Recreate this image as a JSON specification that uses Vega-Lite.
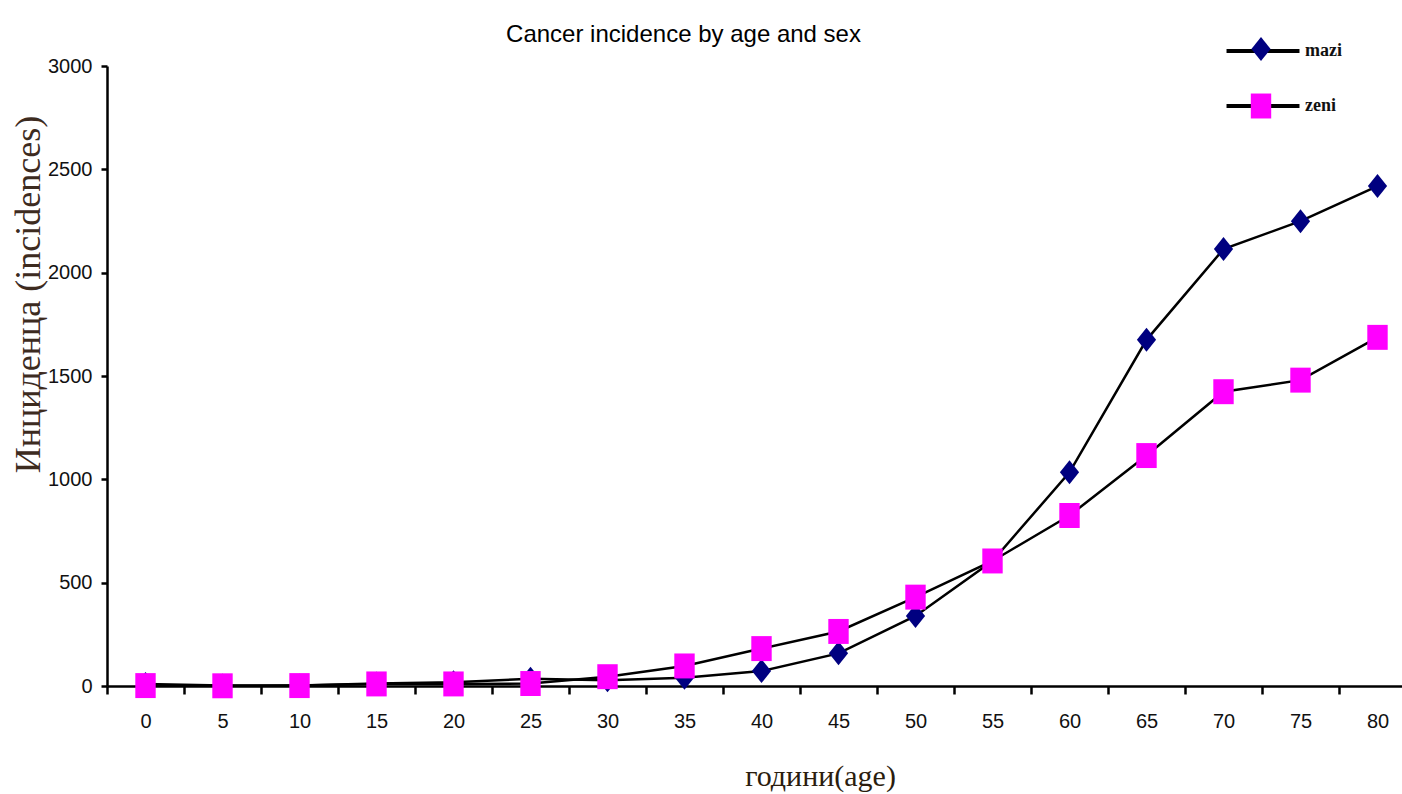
{
  "$schema": "https://vega.github.io/schema/vega-lite/v6.json",
  "width": 1309,
  "height": 620,
  "autosize": {"type": "none"},
  "padding": {"left": 107, "top": 66, "right": 0, "bottom": 108},
  "background": "white",
  "config": {"view": {"stroke": null}},
  "title": {
    "text": "Cancer incidence by age and sex",
    "font": "Liberation Sans",
    "fontSize": 24,
    "fontWeight": "normal",
    "color": "#000000",
    "anchor": "middle",
    "dx": -78,
    "offset": -10
  },
  "data": {
    "values": [
      {"age": 0, "series": "mazi", "value": 10},
      {"age": 5, "series": "mazi", "value": 3},
      {"age": 10, "series": "mazi", "value": 3},
      {"age": 15, "series": "mazi", "value": 12},
      {"age": 20, "series": "mazi", "value": 18},
      {"age": 25, "series": "mazi", "value": 35},
      {"age": 30, "series": "mazi", "value": 28},
      {"age": 35, "series": "mazi", "value": 40},
      {"age": 40, "series": "mazi", "value": 72},
      {"age": 45, "series": "mazi", "value": 158},
      {"age": 50, "series": "mazi", "value": 339},
      {"age": 55, "series": "mazi", "value": 605},
      {"age": 60, "series": "mazi", "value": 1034},
      {"age": 65, "series": "mazi", "value": 1675},
      {"age": 70, "series": "mazi", "value": 2114},
      {"age": 75, "series": "mazi", "value": 2249},
      {"age": 80, "series": "mazi", "value": 2419},
      {"age": 0, "series": "zeni", "value": 2},
      {"age": 5, "series": "zeni", "value": 1},
      {"age": 10, "series": "zeni", "value": 2},
      {"age": 15, "series": "zeni", "value": 10},
      {"age": 20, "series": "zeni", "value": 10},
      {"age": 25, "series": "zeni", "value": 12},
      {"age": 30, "series": "zeni", "value": 45},
      {"age": 35, "series": "zeni", "value": 97},
      {"age": 40, "series": "zeni", "value": 181},
      {"age": 45, "series": "zeni", "value": 264},
      {"age": 50, "series": "zeni", "value": 430},
      {"age": 55, "series": "zeni", "value": 605},
      {"age": 60, "series": "zeni", "value": 825},
      {"age": 65, "series": "zeni", "value": 1115},
      {"age": 70, "series": "zeni", "value": 1424},
      {"age": 75, "series": "zeni", "value": 1480},
      {"age": 80, "series": "zeni", "value": 1687}
    ]
  },
  "encoding": {
    "x": {
      "field": "age",
      "type": "ordinal",
      "bandPosition": 0.5,
      "scale": {"type": "band", "paddingInner": 0, "paddingOuter": 0},
      "axis": {
        "title": "години(age)",
        "titleFont": "Liberation Serif",
        "titleFontSize": 30,
        "titleFontWeight": "normal",
        "titleColor": "#2b1d0e",
        "titleX": 713,
        "titleY": 99,
        "titleAlign": "center",
        "titleBaseline": "alphabetic",
        "labelAngle": 0,
        "labelFont": "Liberation Sans Narrow, Liberation Sans, sans-serif",
        "labelFontSize": 20,
        "labelColor": "#111111",
        "labelPadding": 17,
        "tickBand": "extent",
        "tickSize": 8,
        "tickWidth": 2.5,
        "tickColor": "#000000",
        "domainColor": "#000000",
        "domainWidth": 2.5,
        "grid": false
      }
    },
    "y": {
      "field": "value",
      "type": "quantitative",
      "scale": {"domain": [0, 3000], "nice": false},
      "axis": {
        "values": [0, 500, 1000, 1500, 2000, 2500, 3000],
        "format": "d",
        "title": "Инциденца    (incidences)",
        "titleFont": "Liberation Serif",
        "titleFontSize": 36,
        "titleFontWeight": "normal",
        "titleColor": "#3d2b1f",
        "titleX": -79,
        "titleY": 228,
        "titleAlign": "center",
        "titleBaseline": "middle",
        "titleAngle": 270,
        "labelFont": "Liberation Sans Narrow, Liberation Sans, sans-serif",
        "labelFontSize": 20,
        "labelColor": "#111111",
        "labelPadding": 9,
        "tickSize": 6,
        "tickWidth": 2.5,
        "tickColor": "#000000",
        "domainColor": "#000000",
        "domainWidth": 2.5,
        "grid": false
      }
    }
  },
  "layer": [
    {
      "mark": {"type": "line", "strokeWidth": 2.5},
      "encoding": {
        "stroke": {
          "field": "series",
          "type": "nominal",
          "scale": {"domain": ["mazi", "zeni"], "range": ["#000000", "#000000"]},
          "legend": {
            "orient": "none",
            "legendX": 1142,
            "legendY": -29,
            "title": null,
            "padding": 0,
            "symbolType": "M-3.04,0H3.04",
            "symbolSize": 576,
            "symbolStrokeColor": "#000000",
            "symbolStrokeWidth": 4,
            "labelOffset": 28,
            "labelFont": "Liberation Serif",
            "labelFontSize": 18,
            "labelFontWeight": "bold",
            "labelColor": "#111111",
            "rowPadding": 32,
            "zindex": 0
          }
        }
      }
    },
    {
      "mark": {"type": "point", "filled": true, "opacity": 1, "size": 576, "strokeWidth": 0},
      "encoding": {
        "fill": {
          "field": "series",
          "type": "nominal",
          "scale": {"range": ["#000080", "#FF00FF"]},
          "legend": {
            "orient": "none",
            "legendX": 1142,
            "legendY": -29,
            "title": null,
            "padding": 0,
            "symbolSize": 576,
            "symbolStrokeWidth": 0,
            "symbolOpacity": 1,
            "labelOffset": 28,
            "labelFont": "Liberation Serif",
            "labelFontSize": 18,
            "labelExpr": "''",
            "rowPadding": 32,
            "zindex": 1
          }
        },
        "shape": {
          "field": "series",
          "type": "nominal",
          "scale": {"range": ["M0,-1L0.8,0L0,1L-0.8,0Z", "M-0.85,-1.04H0.85V1.04H-0.85Z"]},
          "legend": {
            "orient": "none",
            "legendX": 1142,
            "legendY": -29,
            "title": null,
            "padding": 0,
            "symbolSize": 576,
            "symbolStrokeWidth": 0,
            "symbolOpacity": 1,
            "labelOffset": 28,
            "labelFont": "Liberation Serif",
            "labelFontSize": 18,
            "labelExpr": "''",
            "rowPadding": 32,
            "zindex": 1
          }
        }
      }
    }
  ]
}
